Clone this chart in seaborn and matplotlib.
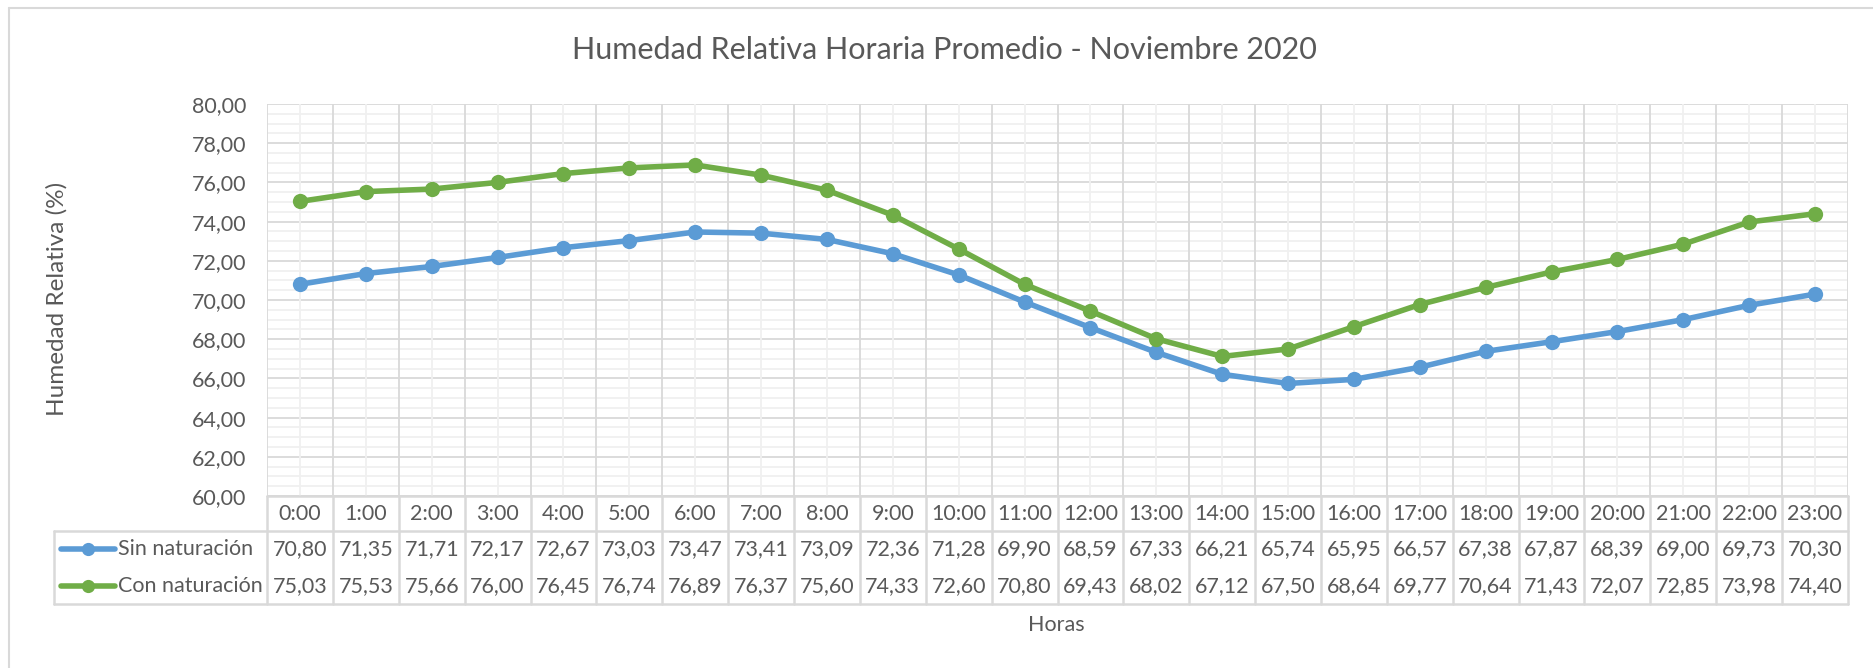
import numpy as np
import pandas as pd
import matplotlib
matplotlib.use("Agg")
import matplotlib.pyplot as plt
from matplotlib.lines import Line2D
from matplotlib.transforms import blended_transform_factory
import seaborn as sns

horas = [f"{h}:00" for h in range(24)]
sin_naturacion = [70.80, 71.35, 71.71, 72.17, 72.67, 73.03, 73.47, 73.41, 73.09, 72.36, 71.28, 69.90,
                  68.59, 67.33, 66.21, 65.74, 65.95, 66.57, 67.38, 67.87, 68.39, 69.00, 69.73, 70.30]
con_naturacion = [75.03, 75.53, 75.66, 76.00, 76.45, 76.74, 76.89, 76.37, 75.60, 74.33, 72.60, 70.80,
                  69.43, 68.02, 67.12, 67.50, 68.64, 69.77, 70.64, 71.43, 72.07, 72.85, 73.98, 74.40]
series_names = ["Sin naturación", "Con naturación"]
colores = ["#5B9BD5", "#70AD47"]

sns.set_theme(style="white")
plt.rcParams['font.family'] = ['Lato', 'DejaVu Sans']
TXT = "#595959"
GRID = "#D9D9D9"
MINOR = "#F0F0F0"
FS = 15.5

W, H = 1874, 668
fig = plt.figure(figsize=(W / 100, H / 100), dpi=100)


def fx(px):
    return px / W


def fy(py):
    return 1 - py / H


left, right, top, bottom = 267, 1848, 104, 496
ax = fig.add_axes([fx(left), fy(bottom), fx(right) - fx(left), fy(top) - fy(bottom)])

df = pd.DataFrame({
    "x": list(range(24)) * 2,
    "valor": sin_naturacion + con_naturacion,
    "serie": [series_names[0]] * 24 + [series_names[1]] * 24,
})

ax.set_xlim(-0.5, 23.5)
ax.set_ylim(60, 80)

# gridlines: minor every 0.5, major every 2; vertical minor at categories, major between
for y in np.arange(60, 80.01, 0.5):
    major = abs(y % 2) < 1e-6
    ax.axhline(y, color=GRID if major else MINOR, lw=1.3, zorder=0)
for i in range(24):
    ax.axvline(i, color=MINOR, lw=1.3, zorder=0)
for i in range(25):
    ax.axvline(i - 0.5, color=GRID, lw=1.3, zorder=0)

sns.lineplot(data=df, x="x", y="valor", hue="serie", palette=colores, marker="o",
             markersize=11, markeredgewidth=0, linewidth=4, ax=ax, legend=False, zorder=3)

yt = np.arange(60, 80.01, 2)
ax.set_xticks([])
ax.set_yticks(yt)
ax.set_yticklabels([f"{v:.2f}".replace(".", ",") for v in yt], color=TXT, fontsize=FS)
ax.tick_params(axis="y", length=0, pad=15)
ax.set_xlabel("")
ax.set_ylabel("")
for s in ax.spines.values():
    s.set_visible(False)

# data table under the axis
tr = blended_transform_factory(ax.transData, fig.transFigure)
y_head_b = 531
y_tab_b = 604
lw_t = 1.8
for i in range(25):
    fig.add_artist(Line2D([i - 0.5, i - 0.5], [fy(bottom), fy(y_tab_b)], transform=tr,
                          color=GRID, lw=lw_t))
fig.add_artist(Line2D([fx(left), fx(right)], [fy(bottom), fy(bottom)], transform=fig.transFigure,
                      color=GRID, lw=lw_t))
for yy in (y_head_b, y_tab_b):
    fig.add_artist(Line2D([fx(54), fx(right)], [fy(yy), fy(yy)], transform=fig.transFigure,
                          color=GRID, lw=lw_t))
fig.add_artist(Line2D([fx(54), fx(54)], [fy(y_head_b), fy(y_tab_b)], transform=fig.transFigure,
                      color=GRID, lw=lw_t))

for i, h in enumerate(horas):
    ax.text(i, fy(514), h, transform=tr, ha="center", va="center", color=TXT, fontsize=FS)

rows_y = [549, 586]
for vals, name, col, ry in zip([sin_naturacion, con_naturacion], series_names, colores, rows_y):
    for i, v in enumerate(vals):
        ax.text(i, fy(ry), f"{v:.2f}".replace(".", ","), transform=tr, ha="center", va="center",
                color=TXT, fontsize=FS)
    fig.add_artist(Line2D([fx(61), fx(115)], [fy(ry), fy(ry)], transform=fig.transFigure,
                          color=col, lw=4, solid_capstyle="round"))
    fig.add_artist(Line2D([fx(88)], [fy(ry)], transform=fig.transFigure, color=col,
                          marker="o", markersize=9.5, markeredgewidth=0))
    fig.text(fx(118), fy(ry), name, ha="left", va="center", color=TXT, fontsize=FS)

# titles
fig.text(fx(944), fy(50), "Humedad Relativa Horaria Promedio - Noviembre 2020", ha="center",
         va="center", color=TXT, fontsize=22)
fig.text(fx(1056), fy(625), "Horas", ha="center", va="center", color=TXT, fontsize=FS)
fig.text(fx(57), fy(299), "Humedad Relativa (%)", ha="center", va="center", rotation=90,
         color=TXT, fontsize=17.5)

# chart border (only top and left visible in the crop)
fig.add_artist(Line2D([fx(9), 1], [fy(8), fy(8)], transform=fig.transFigure, color=GRID, lw=1.5))
fig.add_artist(Line2D([fx(9), fx(9)], [fy(8), 0], transform=fig.transFigure, color=GRID, lw=1.5))

fig.savefig("out.png", dpi=100, facecolor="white")
